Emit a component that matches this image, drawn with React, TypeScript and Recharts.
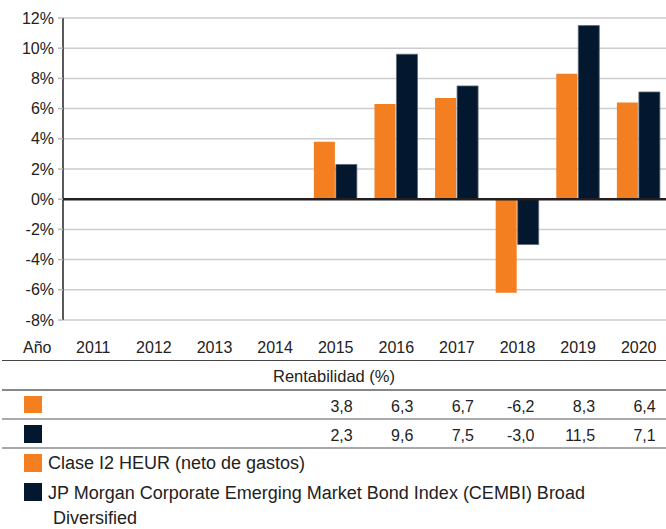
import React from 'react';
import { BarChart, Bar, XAxis, YAxis, CartesianGrid, ReferenceLine } from 'recharts';

const years = ['2011', '2012', '2013', '2014', '2015', '2016', '2017', '2018', '2019', '2020'];
const fundValues: (number | null)[] = [null, null, null, null, 3.8, 6.3, 6.7, -6.2, 8.3, 6.4];
const indexValues: (number | null)[] = [null, null, null, null, 2.3, 9.6, 7.5, -3.0, 11.5, 7.1];
const yTicks = [-8, -6, -4, -2, 0, 2, 4, 6, 8, 10, 12];
const axisTitle = 'Año';
const tableTitle = 'Rentabilidad (%)';
const fundLegend = ['Clase I2 HEUR (neto de gastos)'];
const indexLegend = ['JP Morgan Corporate Emerging Market Bond Index (CEMBI) Broad', 'Diversified'];

const ORANGE = '#F47F20';
const NAVY = '#03182F';
const TEXT = '#222222';
const FONT = '"Liberation Sans", Arial, sans-serif';

const data = years.map((y, i) => ({ year: y, fund: fundValues[i], index: indexValues[i] }));

const fmt = (v: number | null) => (v === null || v === undefined ? '' : v.toFixed(1).replace('.', ','));

const YearTick = (props: any) => {
  const { x, payload, index } = props;
  const i = typeof index === 'number' ? index : years.indexOf(payload.value);
  return (
    <g>
      <text x={x} y={353} textAnchor="middle" fontSize={16} fill={TEXT}>{payload.value}</text>
      <text x={x + 17} y={412} textAnchor="end" fontSize={16} fill={TEXT}>{fmt(fundValues[i])}</text>
      <text x={x + 17} y={441} textAnchor="end" fontSize={16} fill={TEXT}>{fmt(indexValues[i])}</text>
    </g>
  );
};

export default function App() {
  return (
    <div style={{ position: 'absolute', left: 0, top: 0, width: 666, height: 529, fontFamily: FONT, background: '#fff' }}>
      <BarChart
        width={666}
        height={529}
        data={data}
        margin={{ top: 18, right: -3, left: 0, bottom: 0 }}
        barCategoryGap="14%"
        barGap={1}
      >
        <CartesianGrid vertical={false} stroke="#cdcdcd" strokeWidth={1.5} />
        <XAxis
          dataKey="year"
          height={209}
          axisLine={false}
          tickLine={false}
          tickSize={0}
          tickMargin={0}
          interval={0}
          tick={<YearTick />}
        />
        <YAxis
          width={63}
          domain={[-8, 12]}
          ticks={yTicks}
          interval={0}
          tickFormatter={(v: number) => `${v}%`}
          axisLine={{ stroke: '#222', strokeWidth: 1.5 }}
          tickLine={{ stroke: '#bbbbbb', strokeWidth: 1.5 }}
          tickSize={5}
          tickMargin={4}
          tick={{ fontSize: 16, fill: TEXT }}
        />
        <Bar dataKey="fund" fill={ORANGE} isAnimationActive={false} />
        <Bar dataKey="index" fill={NAVY} stroke="#5d6775" strokeWidth={0.8} isAnimationActive={false} />
        <ReferenceLine y={0} stroke="#231f20" strokeWidth={2.5} />
      </BarChart>
      <svg
        width={666}
        height={529}
        style={{ position: 'absolute', left: 0, top: 0, pointerEvents: 'none', fontFamily: FONT }}
      >
        <text x={23} y={353} fontSize={16} fill={TEXT}>{axisTitle}</text>
        <line x1={2} x2={666} y1={360.5} y2={360.5} stroke="#444" strokeWidth={1} />
        <text x={334} y={382} fontSize={16.5} fill={TEXT} textAnchor="middle">{tableTitle}</text>
        <line x1={2} x2={666} y1={390} y2={390} stroke="#888" strokeWidth={2} />
        <rect x={24} y={396} width={18} height={17} fill={ORANGE} />
        <line x1={2} x2={666} y1={419} y2={419} stroke="#555" strokeWidth={1.2} />
        <rect x={24} y={425} width={18} height={18} fill={NAVY} />
        <line x1={2} x2={666} y1={448} y2={448} stroke="#555" strokeWidth={1.2} />
        <rect x={24} y={454} width={18} height={18} fill={ORANGE} />
        <text x={48} y={469} fontSize={18} fill={TEXT}>{fundLegend[0]}</text>
        <rect x={24} y={483} width={18} height={18} fill={NAVY} />
        <text x={48} y={499} fontSize={18} fill={TEXT}>{indexLegend[0]}</text>
        <text x={53} y={524} fontSize={18} fill={TEXT}>{indexLegend[1]}</text>
      </svg>
    </div>
  );
}
